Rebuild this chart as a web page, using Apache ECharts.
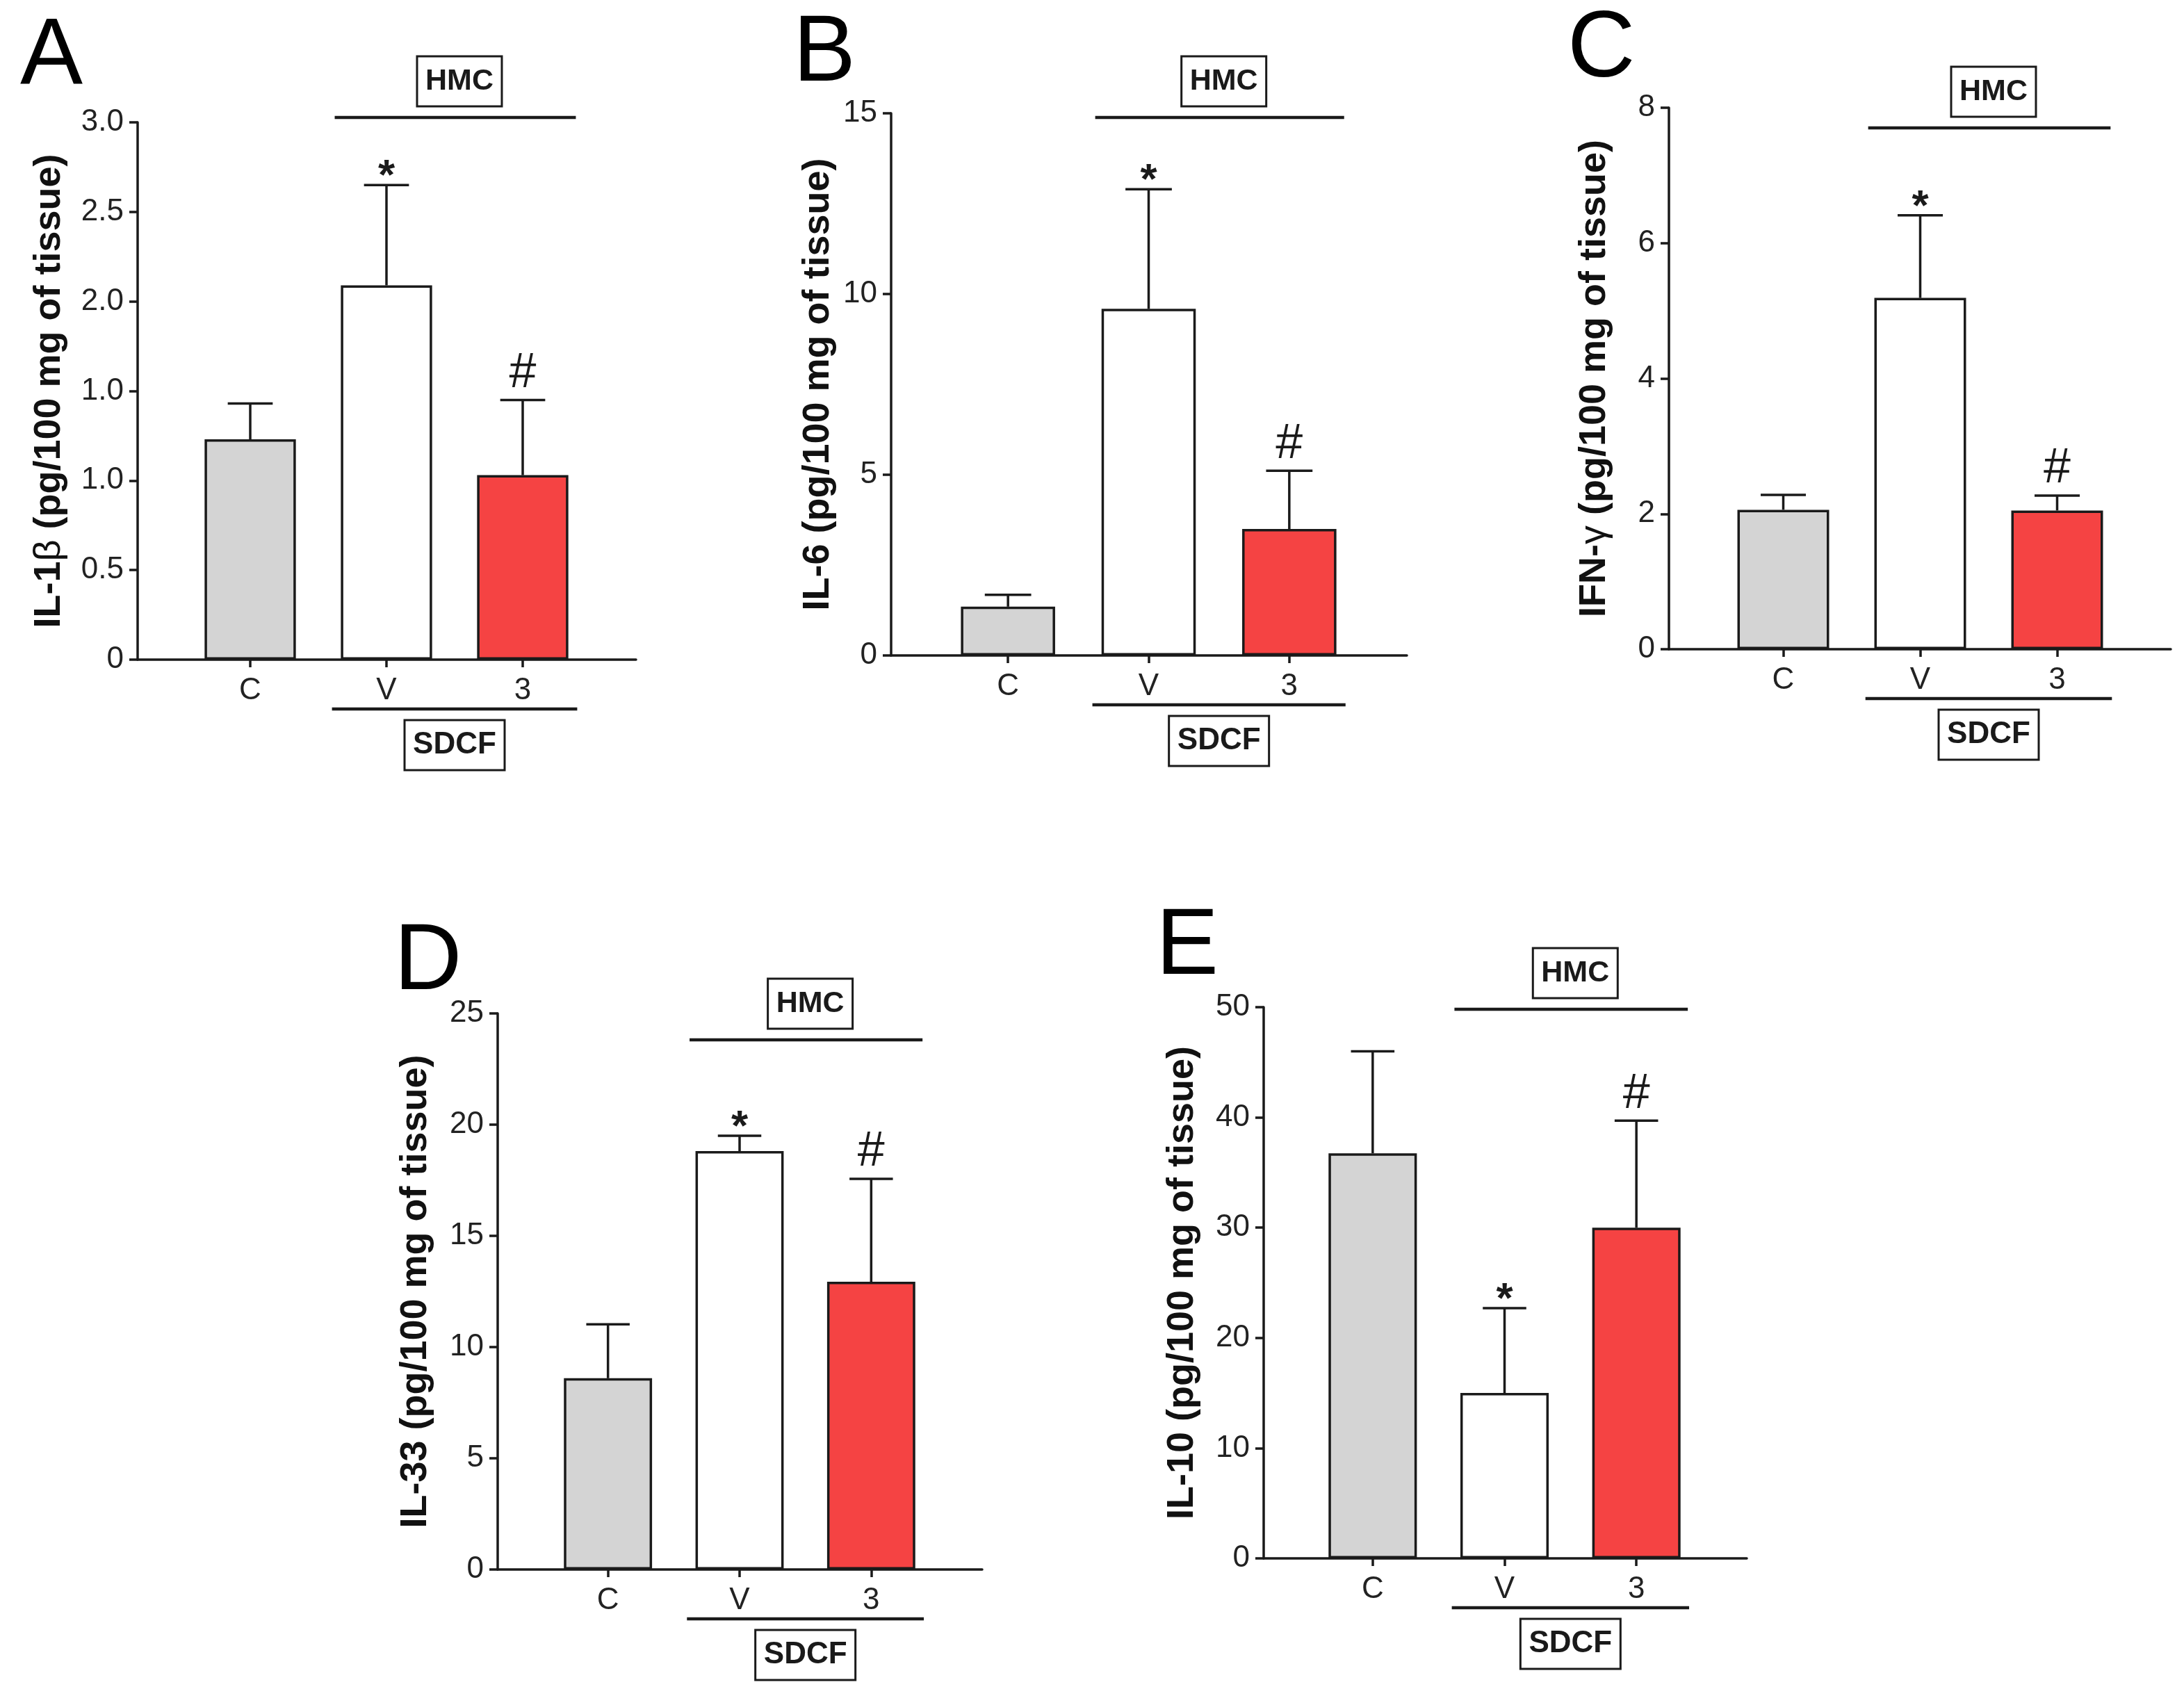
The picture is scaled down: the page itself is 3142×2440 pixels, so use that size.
<!DOCTYPE html>
<html>
<head>
<meta charset="utf-8">
<script src="https://cdn.jsdelivr.net/npm/echarts@6/dist/echarts.min.js"></script>
<style>
html,body{margin:0;padding:0;background:#fff;}
#chart{width:3142px;height:2440px;}
</style>
</head>
<body>
<div id="chart"></div>
<script>
// ---------- data ----------
const categories = ['C', 'V', '3'];
const il1bMean = [1.23, 2.09, 1.03];
const il1bErr  = [0.20, 0.56, 0.42];
const il6Mean  = [1.35, 9.59, 3.50];
const il6Err   = [0.33, 3.31, 1.61];
const ifngMean = [2.06, 5.19, 2.05];
const ifngErr  = [0.22, 1.22, 0.22];
const il33Mean = [8.60, 18.81, 12.94];
const il33Err  = [2.42, 0.69, 4.62];
const il10Mean = [36.75, 15.0, 30.0];
const il10Err  = [9.25, 7.70, 9.70];
const sigMarks = ['', '*', '#'];
const il1bTicks = ['0', '0.5', '1.0', '1.0', '2.0', '2.5', '3.0'];
const panelLetters = ['A', 'B', 'C', 'D', 'E'];
const yTitles = [
  'IL-1{n|β} (pg/100 mg of tissue)',
  'IL-6 (pg/100 mg of tissue)',
  'IFN-{n|γ} (pg/100 mg of tissue)',
  'IL-33 (pg/100 mg of tissue)',
  'IL-10 (pg/100 mg of tissue)'
];
const yMax  = [3, 15, 8, 25, 50];
const yStep = [0.5, 5, 2, 5, 10];
const topGroupLabel = 'HMC';
const bottomGroupLabel = 'SDCF';
const groupFirst = 'V';

// ---------- styling / layout ----------
const FONT = '"Liberation Sans", Arial, Helvetica, sans-serif';
const INK = '#1a1a1a';
const barColors = ['#d4d4d4', '#ffffff', '#f54343'];
const markStyle = { '*': { size: 62, lift: 11, weight: 'bold ' }, '#': { size: 70, lift: 38, weight: '' } };
const layouts = [
  { axisLeft: 198,  axisRight: 915,  top: 176,  bottom: 949,  bandLeft: 262,  bandRight: 850,  nameGap: 100, hmcOffset: -7, letterLeft: 24,   letterTop: 10 },
  { axisLeft: 1282, axisRight: 2024, top: 163,  bottom: 943,  bandLeft: 1349, bandRight: 1956, nameGap: 78,  hmcOffset: 6,  letterLeft: 1136, letterTop: 6 },
  { axisLeft: 2401, axisRight: 3123, top: 155,  bottom: 934,  bandLeft: 2467, bandRight: 3058, nameGap: 80,  hmcOffset: 29, letterLeft: 2250, letterTop: 0 },
  { axisLeft: 716,  axisRight: 1413, top: 1458, bottom: 2258, bandLeft: 780,  bandRight: 1348, nameGap: 91,  hmcOffset: 38, letterLeft: 562,  letterTop: 1313 },
  { axisLeft: 1818, axisRight: 2513, top: 1449, bottom: 2242, bandLeft: 1880, bandRight: 2449, nameGap: 90,  hmcOffset: 3,  letterLeft: 1658, letterTop: 1291 }
];
const means = [il1bMean, il6Mean, ifngMean, il33Mean, il10Mean];
const errs  = [il1bErr, il6Err, ifngErr, il33Err, il10Err];

const chart = echarts.init(document.getElementById('chart'), null, { renderer: 'canvas' });

const grid = [], xAxis = [], yAxis = [], series = [], title = [];

means.forEach((m, i) => {
  const L = layouts[i];
  const gMain = grid.length;
  grid.push({ left: L.bandLeft, top: L.top, width: L.bandRight - L.bandLeft, height: L.bottom - L.top, containLabel: false });
  grid.push({ left: L.axisLeft, top: L.top, width: L.axisRight - L.axisLeft, height: L.bottom - L.top, containLabel: false });

  // main grid axes (bars)
  xAxis.push({
    type: 'category', gridIndex: gMain, data: categories,
    axisLine: { show: false },
    axisTick: { show: true, alignWithLabel: true, length: 11, lineStyle: { color: INK, width: 3.5 } },
    axisLabel: { fontSize: 44, color: '#222', fontFamily: FONT, margin: 23 },
    splitLine: { show: false }
  });
  yAxis.push({ type: 'value', gridIndex: gMain, min: 0, max: yMax[i], interval: yStep[i], show: false, splitLine: { show: false } });

  // axis grid (visible axis lines, y ticks, title)
  xAxis.push({
    type: 'value', gridIndex: gMain + 1, min: 0, max: 1,
    axisLine: { show: true, onZero: false, lineStyle: { color: INK, width: 3.5 } },
    axisTick: { show: false }, axisLabel: { show: false }, splitLine: { show: false }
  });
  yAxis.push({
    type: 'value', gridIndex: gMain + 1, min: 0, max: yMax[i], interval: yStep[i],
    axisLine: { show: true, lineStyle: { color: INK, width: 3.5 } },
    axisTick: { show: true, length: 12, lineStyle: { color: INK, width: 3.5 } },
    axisLabel: {
      fontSize: 44, color: '#222', fontFamily: FONT, margin: 20,
      formatter: i === 0 ? (v) => il1bTicks[Math.round(v / yStep[0])] : undefined
    },
    splitLine: { show: false },
    name: yTitles[i], nameLocation: 'middle', nameGap: L.nameGap, nameRotate: 90,
    nameTextStyle: {
      fontSize: 54, fontWeight: 'bold', color: '#111', fontFamily: FONT, verticalAlign: 'bottom',
      rich: { n: { fontSize: 54, fontWeight: 'normal', color: '#111', fontFamily: FONT } }
    }
  });

  title.push({ text: panelLetters[i], left: L.letterLeft, top: L.letterTop, textStyle: { fontSize: 135, fontWeight: 'normal', color: '#000', fontFamily: FONT } });

  // bars
  series.push({
    type: 'bar', xAxisIndex: gMain, yAxisIndex: gMain, barWidth: '67%',
    data: m.map((v, j) => ({ value: v, itemStyle: { color: barColors[j], borderColor: INK, borderWidth: 3.5 } })),
    silent: true, animation: false, z: 2
  });

  // error bars + significance marks
  series.push({
    type: 'custom', xAxisIndex: gMain, yAxisIndex: gMain, clip: false, animation: false, silent: true, z: 3,
    encode: { x: 0, y: 1 },
    data: m.map((v, j) => [j, v, errs[i][j]]),
    renderItem: function (params, api) {
      const x = api.value(0), v = api.value(1), e = api.value(2);
      const p0 = api.coord([x, v]);
      const p1 = api.coord([x, v + e]);
      const bw = api.size([1, 0])[0];
      const half = bw * 0.165;
      const children = [
        { type: 'line', shape: { x1: p0[0], y1: p0[1], x2: p1[0], y2: p1[1] }, style: { stroke: INK, lineWidth: 3.5 } },
        { type: 'line', shape: { x1: p1[0] - half, y1: p1[1], x2: p1[0] + half, y2: p1[1] }, style: { stroke: INK, lineWidth: 3.5 } }
      ];
      const mk = sigMarks[params.dataIndex];
      if (mk) {
        const ms = markStyle[mk];
        children.push({ type: 'text', style: { x: p1[0], y: p1[1] - ms.lift, text: mk, fill: INK, font: ms.weight + ms.size + 'px ' + FONT, textAlign: 'center', textVerticalAlign: 'middle' } });
      }
      return { type: 'group', children: children };
    }
  });

  // group brackets (HMC above, SDCF below)
  series.push({
    type: 'custom', xAxisIndex: gMain, yAxisIndex: gMain, clip: false, animation: false, silent: true, z: 4,
    encode: { x: 0, y: 1 },
    data: [[categories.indexOf(groupFirst), 0, categories.length - 1]],
    renderItem: function (params, api) {
      const a = api.coord([api.value(0), 0]);
      const b = api.coord([api.value(2), 0]);
      const bw = api.size([1, 0])[0];
      const cs = params.coordSys;
      const yTop = cs.y + L.hmcOffset;
      const yBot = cs.y + cs.height + 71;
      const tx1 = a[0] - 0.38 * bw, tx2 = b[0] + 0.39 * bw;
      const bx1 = a[0] - 0.40 * bw, bx2 = b[0] + 0.40 * bw;
      const tcx = (tx1 + tx2) / 2 + 6, bcx = (bx1 + bx2) / 2;
      const hw = 122, sw = 144, bh = 72;
      return {
        type: 'group', children: [
          { type: 'line', shape: { x1: tx1, y1: yTop, x2: tx2, y2: yTop }, style: { stroke: INK, lineWidth: 4.5 } },
          { type: 'rect', shape: { x: tcx - hw / 2, y: yTop - 16 - bh, width: hw, height: bh }, style: { fill: '#fff', stroke: INK, lineWidth: 3 } },
          { type: 'text', style: { x: tcx, y: yTop - 16 - bh / 2, text: topGroupLabel, fill: INK, font: 'bold 43px ' + FONT, textAlign: 'center', textVerticalAlign: 'middle' } },
          { type: 'line', shape: { x1: bx1, y1: yBot, x2: bx2, y2: yBot }, style: { stroke: INK, lineWidth: 4.5 } },
          { type: 'rect', shape: { x: bcx - sw / 2, y: yBot + 16, width: sw, height: bh }, style: { fill: '#fff', stroke: INK, lineWidth: 3 } },
          { type: 'text', style: { x: bcx, y: yBot + 16 + bh / 2, text: bottomGroupLabel, fill: INK, font: 'bold 44px ' + FONT, textAlign: 'center', textVerticalAlign: 'middle' } }
        ]
      };
    }
  });
});

chart.setOption({
  backgroundColor: '#fff',
  animation: false,
  title: title,
  grid: grid,
  xAxis: xAxis,
  yAxis: yAxis,
  series: series
});
</script>
</body>
</html>
